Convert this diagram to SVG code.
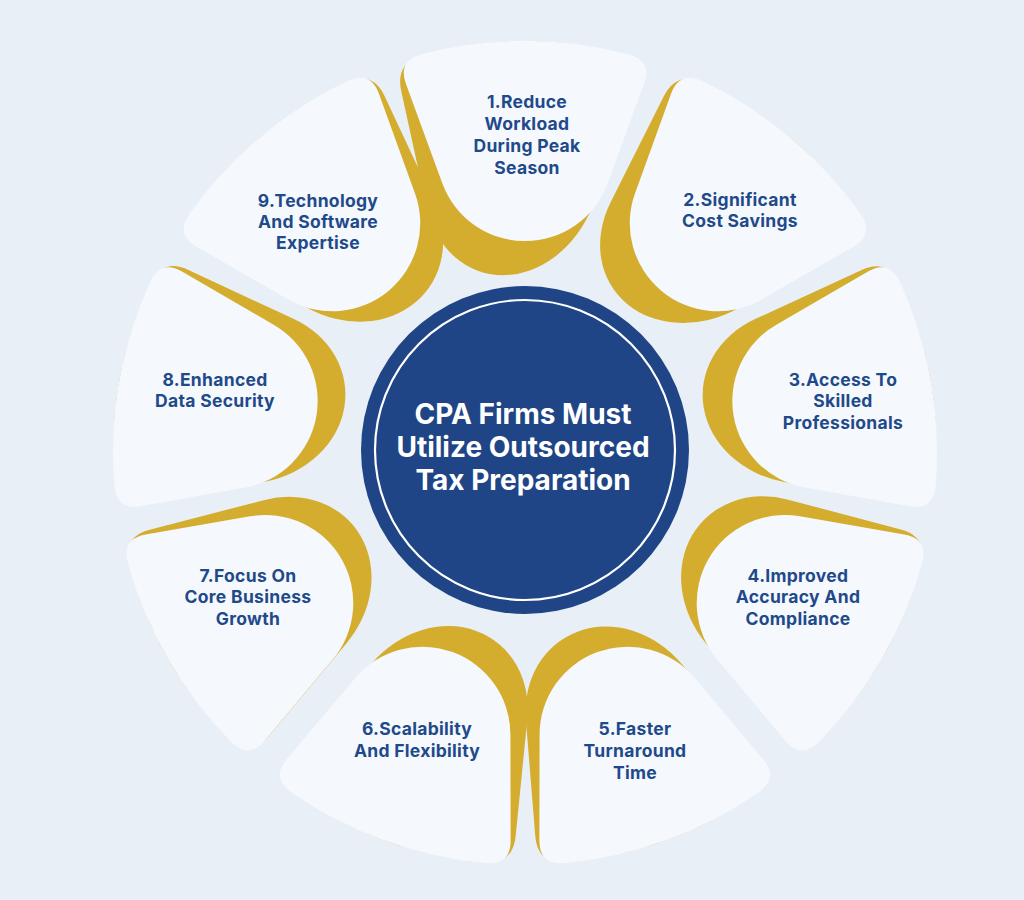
<svg xmlns="http://www.w3.org/2000/svg" xmlns:xlink="http://www.w3.org/1999/xlink" width="1024" height="900" viewBox="0 0 1024 900">
  <style>
    .bg { fill: #e9eff7; }
    .petal { fill: #f5f8fd; }
    .gold { fill: #d4ad2e; }
    .lbl { font-family: Inter, "Noto Sans", "Liberation Sans", sans-serif; font-weight: 700; font-size: 17.5px; letter-spacing: 0.3px; fill: #1f4a8a; text-anchor: middle; }
    .title { font-family: Inter, "Noto Sans", "Liberation Sans", sans-serif; font-weight: 700; font-size: 28px; fill: #ffffff; text-anchor: middle; }
  </style>
  <defs>
    <path id="petalShape" d="M -119.1,-369.3 Q -127.3,-391.8 -104.3,-398.6 A 412 412 0 0 1 104.3,-398.6 Q 127.3,-391.8 119.1,-369.3 L 82.7,-269.8 A 88 88 0 0 1 -82.7,-269.8 Z"/>
  </defs>
  <rect class="bg" x="0" y="0" width="1024" height="900"/>

  <g id="petal-shadows" transform="translate(525,453)">
    <use xlink:href="#petalShape" href="#petalShape" class="gold" transform="rotate(0) matrix(1,0,-0.11,1.17,-45.32,70.04)"/>
    <use xlink:href="#petalShape" href="#petalShape" class="gold" transform="rotate(40) matrix(1,0,-0.09,1.16,-37.08,65.92)"/>
    <use xlink:href="#petalShape" href="#petalShape" class="gold" transform="rotate(80) matrix(1,0,-0.065,1.14,-26.78,57.68)"/>
    <use xlink:href="#petalShape" href="#petalShape" class="gold" transform="rotate(120) matrix(1,0,-0.06,1.13,-24.72,53.56)"/>
    <use xlink:href="#petalShape" href="#petalShape" class="gold" transform="rotate(160) matrix(1,0,0.055,1.13,22.66,53.56)"/>
    <use xlink:href="#petalShape" href="#petalShape" class="gold" transform="rotate(200) matrix(1,0,-0.075,1.14,-30.9,57.68)"/>
    <use xlink:href="#petalShape" href="#petalShape" class="gold" transform="rotate(240) matrix(1,0,0.05,1.14,20.6,57.68)"/>
    <use xlink:href="#petalShape" href="#petalShape" class="gold" transform="rotate(280) matrix(1,0,0.065,1.13,26.78,53.56)"/>
    <use xlink:href="#petalShape" href="#petalShape" class="gold" transform="rotate(320) matrix(1,0,0.065,1.13,26.78,53.56)"/>
  </g>

  <g id="node1">
    <use xlink:href="#petalShape" href="#petalShape" class="petal" transform="translate(525,453) rotate(0)"/>
    <text class="lbl" x="527" y="108">1.Reduce</text>
    <text class="lbl" x="527" y="130">Workload</text>
    <text class="lbl" x="527" y="152">During Peak</text>
    <text class="lbl" x="527" y="174">Season</text>
  </g>
  <g id="node2">
    <use xlink:href="#petalShape" href="#petalShape" class="petal" transform="translate(525,453) rotate(40)"/>
    <text class="lbl" x="740" y="206">2.Significant</text>
    <text class="lbl" x="740" y="227">Cost Savings</text>
  </g>
  <g id="node3">
    <use xlink:href="#petalShape" href="#petalShape" class="petal" transform="translate(525,453) rotate(80)"/>
    <text class="lbl" x="843" y="386">3.Access To</text>
    <text class="lbl" x="843" y="407">Skilled</text>
    <text class="lbl" x="843" y="429">Professionals</text>
  </g>
  <g id="node4">
    <use xlink:href="#petalShape" href="#petalShape" class="petal" transform="translate(525,453) rotate(120)"/>
    <text class="lbl" x="798" y="582">4.Improved</text>
    <text class="lbl" x="798" y="603">Accuracy And</text>
    <text class="lbl" x="798" y="625">Compliance</text>
  </g>
  <g id="node5">
    <use xlink:href="#petalShape" href="#petalShape" class="petal" transform="translate(525,453) rotate(160)"/>
    <text class="lbl" x="635" y="735">5.Faster</text>
    <text class="lbl" x="635" y="757">Turnaround</text>
    <text class="lbl" x="635" y="779">Time</text>
  </g>
  <g id="node6">
    <use xlink:href="#petalShape" href="#petalShape" class="petal" transform="translate(525,453) rotate(200)"/>
    <text class="lbl" x="417" y="735">6.Scalability</text>
    <text class="lbl" x="417" y="757">And Flexibility</text>
  </g>
  <g id="node7">
    <use xlink:href="#petalShape" href="#petalShape" class="petal" transform="translate(525,453) rotate(240)"/>
    <text class="lbl" x="248" y="582">7.Focus On</text>
    <text class="lbl" x="248" y="603">Core Business</text>
    <text class="lbl" x="248" y="625">Growth</text>
  </g>
  <g id="node8">
    <use xlink:href="#petalShape" href="#petalShape" class="petal" transform="translate(525,453) rotate(280)"/>
    <text class="lbl" x="215" y="386">8.Enhanced</text>
    <text class="lbl" x="215" y="407">Data Security</text>
  </g>
  <g id="node9">
    <use xlink:href="#petalShape" href="#petalShape" class="petal" transform="translate(525,453) rotate(320)"/>
    <text class="lbl" x="318" y="207">9.Technology</text>
    <text class="lbl" x="318" y="228">And Software</text>
    <text class="lbl" x="318" y="249">Expertise</text>
  </g>

  <g id="center">
    <circle cx="525" cy="450" r="164" fill="#1f4586"/>
    <circle cx="525" cy="450" r="150" fill="none" stroke="#ffffff" stroke-width="2.2"/>
    <text class="title" x="523" y="424">CPA Firms Must</text>
    <text class="title" x="523" y="457">Utilize Outsourced</text>
    <text class="title" x="523" y="490">Tax Preparation</text>
  </g>
  <g id="connectors"></g>
</svg>
